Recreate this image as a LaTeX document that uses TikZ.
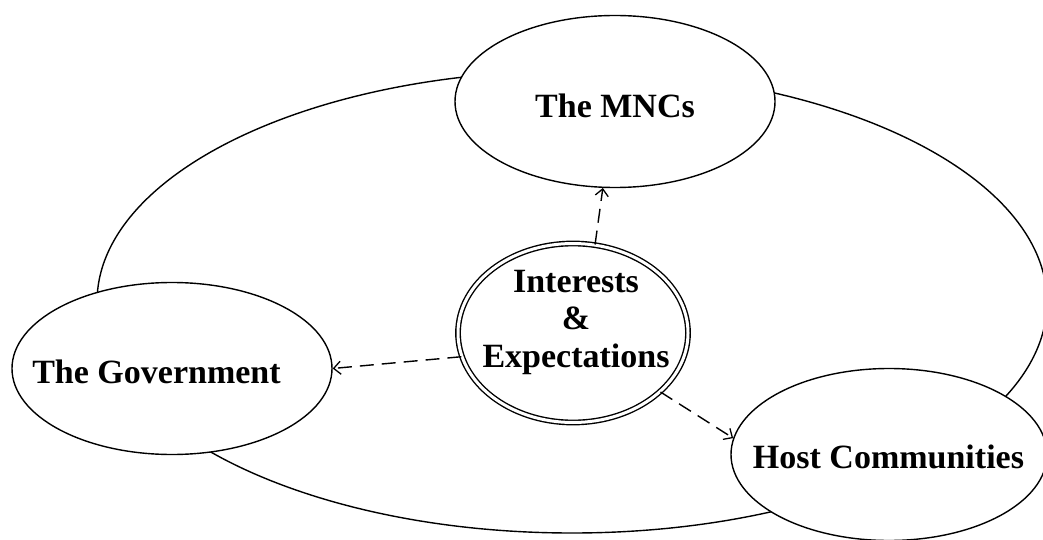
\documentclass[tikz,border=0pt]{standalone}
\usepackage{fontspec}
\setmainfont{Liberation Serif}
\usetikzlibrary{shapes.geometric,arrows.meta}
\begin{document}
\begin{tikzpicture}[x=1pt,y=-1pt,
  oval/.style={ellipse,draw=black,line width=1.4pt,fill=white,inner sep=0pt},
  lbl/.style={font=\bfseries\fontsize{34}{37.5}\selectfont,inner sep=0pt,text=black},
  link/.style={line width=1.4pt,dash pattern=on 14pt off 8pt,-{Straight Barb[length=7pt,width=13pt,line width=1.3pt]}}]
\useasboundingbox (0,0) rectangle (1043,540);
\begin{scope}
\clip (0,0) rectangle (1043,540);
\node[ellipse,draw=black,line width=1.4pt,inner sep=0pt,minimum width=950pt,minimum height=462pt] (big) at (572,302) {};
\node[oval,minimum width=320pt,minimum height=172pt] (mnc) at (615,101.5) {};
\node[oval,minimum width=320pt,minimum height=172pt] (gov) at (172,368.5) {};
\node[oval,minimum width=316pt,minimum height=172pt] (host) at (889,454.5) {};
\node[ellipse,draw=black,line width=1.4pt,double=white,double distance=3pt,fill=white,inner sep=0pt,minimum width=230pt,minimum height=179pt] (c) at (573,333) {};
\end{scope}
\node[lbl,anchor=base] (tmnc) at (615,118) {The MNCs};
\node[lbl,anchor=base] (tgov) at (156.5,383) {The Government};
\node[lbl,anchor=base] (thost) at (888.5,468) {Host Communities};
\node[lbl,align=center] (tc) at (576,322) {Interests\\\&\\Expectations};
\draw[link] (c.76) -- (mnc.262);
\draw[link] (c.192.3) -- (gov.0.5);
\draw[link] (c.-34.6) -- (host.174.7);
\end{tikzpicture}
\end{document}
